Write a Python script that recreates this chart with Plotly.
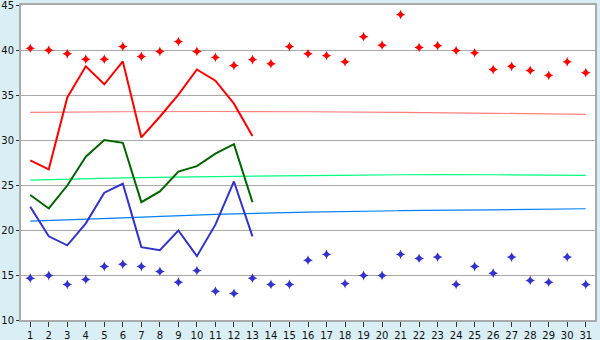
import plotly.graph_objects as go

days = list(range(1, 32))
tick_labels = [str(d) for d in days]

red_markers = [40.2, 40.0, 39.6, 39.0, 39.0, 40.4, 39.3, 39.85, 40.95, 39.85,
               39.2, 38.3, 38.95, 38.5, 40.4, 39.6, 39.4, 38.7, 41.5, 40.55,
               43.95, 40.3, 40.5, 39.95, 39.7, 37.85, 38.2, 37.75, 37.2, 38.7, 37.5]
blue_markers = [14.65, 14.95, 13.95, 14.5, 15.95, 16.2, 15.95, 15.4, 14.2, 15.5,
                13.2, 12.95, 14.65, 13.95, 13.95, 16.65, 17.3, 14.05, 14.95, 14.95,
                17.3, 16.85, 17.0, 13.95, 15.95, 15.2, 17.0, 14.4, 14.2, 17.0, 13.95]

line_days = list(range(1, 14))
red_line = [27.75, 26.75, 34.75, 38.2, 36.2, 38.75, 30.3, 32.6, 35.05, 37.85, 36.6, 34.05, 30.45]
green_line = [23.9, 22.4, 24.95, 28.15, 30.0, 29.7, 23.1, 24.3, 26.5, 27.1, 28.5, 29.55, 23.1]
blue_line = [22.6, 19.3, 18.3, 20.75, 24.15, 25.15, 18.1, 17.75, 19.95, 17.1, 20.6, 25.4, 19.3]

trend_days = [1, 6, 11, 16, 21, 26, 31]
red_trend = [33.08, 33.15, 33.18, 33.15, 33.08, 32.98, 32.87]
green_trend = [25.55, 25.8, 25.95, 26.05, 26.15, 26.15, 26.08]
blue_trend = [21.0, 21.35, 21.75, 22.0, 22.15, 22.25, 22.37]

fig = go.Figure()
fig.add_trace(go.Scatter(x=trend_days, y=red_trend, mode="lines",
                         line=dict(color="#FF7F7F", width=1.2), line_shape="spline"))
fig.add_trace(go.Scatter(x=trend_days, y=green_trend, mode="lines",
                         line=dict(color="#00FF80", width=1.2), line_shape="spline"))
fig.add_trace(go.Scatter(x=trend_days, y=blue_trend, mode="lines",
                         line=dict(color="#0080FF", width=1.2), line_shape="spline"))
fig.add_trace(go.Scatter(x=line_days, y=red_line, mode="lines",
                         line=dict(color="#FF0000", width=2)))
fig.add_trace(go.Scatter(x=line_days, y=green_line, mode="lines",
                         line=dict(color="#006400", width=2)))
fig.add_trace(go.Scatter(x=line_days, y=blue_line, mode="lines",
                         line=dict(color="#3333CC", width=2)))
fig.add_trace(go.Scatter(x=days, y=red_markers, mode="markers",
                         marker=dict(symbol="star-diamond", size=7, color="#FF0000",
                                     line=dict(width=0))))
fig.add_trace(go.Scatter(x=days, y=blue_markers, mode="markers",
                         marker=dict(symbol="star-diamond", size=7, color="#3333CC",
                                     line=dict(width=0))))

fig.update_layout(
    width=600, height=340,
    margin=dict(l=21, r=5, t=5, b=20),
    paper_bgcolor="#D9EEF5",
    plot_bgcolor="#FFFFFF",
    showlegend=False,
    font=dict(family="DejaVu Sans", size=10, color="#111111"),
)
fig.update_xaxes(
    range=[0.5, 31.5], tickmode="array", tickvals=days, ticktext=tick_labels,
    showgrid=False, zeroline=False, automargin=False,
    showline=True, linecolor="#AAAAAA", linewidth=2, mirror=True,
    ticks="outside", ticklen=5, tickcolor="#333333", tickwidth=1,
    tickfont=dict(size=10), ticklabelstandoff=0,
)
fig.update_yaxes(
    range=[10, 45.02], tickmode="array", tickvals=[10, 15, 20, 25, 30, 35, 40, 45],
    showgrid=True, gridcolor="#A8A8A8", gridwidth=1, zeroline=False, automargin=False,
    showline=True, linecolor="#AAAAAA", linewidth=2, mirror=True,
    ticks="outside", ticklen=3, tickcolor="#333333", tickwidth=1,
    tickfont=dict(size=10), ticklabelstandoff=0, ticklabeloverflow="allow",
)

fig.write_html("out.html")
